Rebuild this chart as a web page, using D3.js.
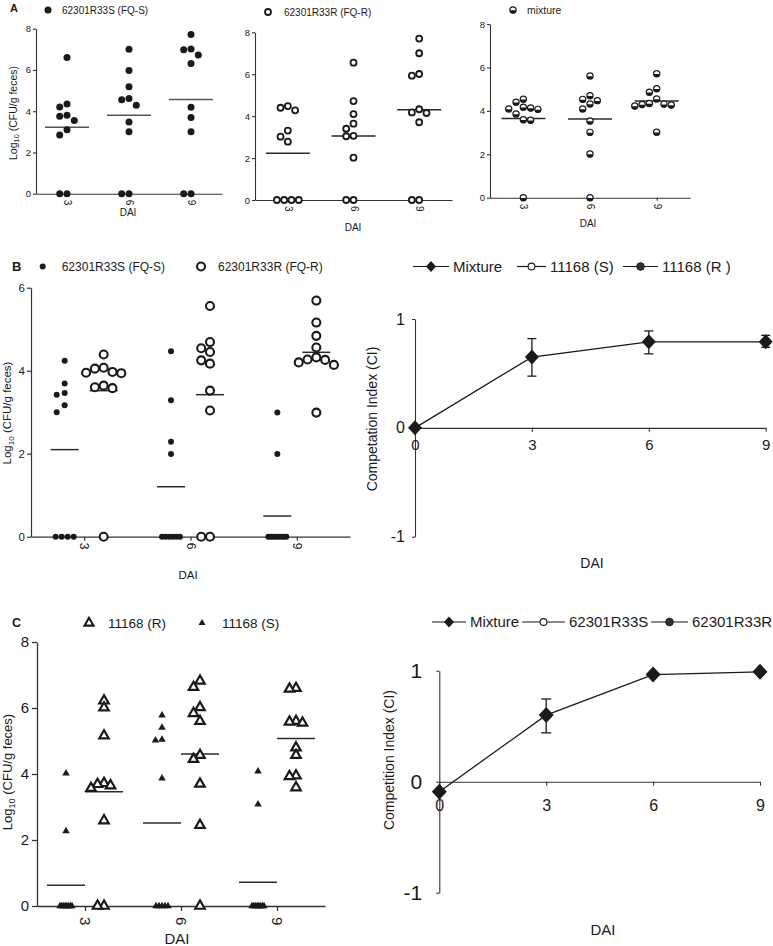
<!DOCTYPE html>
<html><head><meta charset="utf-8">
<script src="https://cdn.jsdelivr.net/npm/d3@7"></script>
<style>
body{margin:0;background:#fff}
svg{display:block}
text{font-family:"Liberation Sans",Arial,Helvetica,sans-serif;fill:#1a1a1a}
</style>
</head><body>
<script>
// ---------------- DATA ----------------
const days = [3, 6, 9];
const ciDays = [0, 3, 6, 9];

// Panel A (log10 CFU/g feces), one array per day
const aFQS = [
  [6.6, 4.35, 4.2, 3.8, 3.75, 3.55, 3.1, 2.85, 0, 0],
  [7.0, 5.97, 5.18, 4.61, 4.55, 4.29, 3.48, 3.0, 0, 0],
  [7.72, 7.02, 6.98, 6.73, 6.31, 4.19, 3.69, 3.0, 0, 0]
];
const aFQR = [
  [4.48, 4.40, 4.28, 3.31, 3.02, 2.78, 0, 0, 0, 0],
  [6.55, 4.72, 4.10, 3.64, 3.40, 3.06, 3.04, 2.02, 0, 0],
  [7.70, 7.0, 6.01, 5.93, 4.33, 4.18, 4.15, 3.71, 0, 0]
];
const aMix = [
  [4.54, 4.40, 4.17, 4.13, 4.09, 4.07, 3.86, 3.59, 3.57, 0],
  [5.61, 4.70, 4.53, 4.47, 4.32, 4.09, 3.53, 3.01, 2.01, 0],
  [5.71, 5.02, 4.86, 4.55, 4.34, 4.31, 4.29, 4.27, 4.22, 3.02]
];
// Panel B left
const bFQS = [
  [4.24, 3.69, 3.46, 3.42, 3.17, 3.0, 0, 0, 0, 0],
  [4.47, 3.29, 2.29, 1.99, 0, 0, 0, 0, 0, 0],
  [2.99, 1.99, 0, 0, 0, 0, 0, 0, 0, 0]
];
const bFQR = [
  [4.39, 4.07, 4.05, 3.97, 3.95, 3.94, 3.64, 3.60, 3.58, 0],
  [5.56, 4.69, 4.54, 4.45, 4.25, 4.17, 3.52, 3.04, 0, 0],
  [5.69, 5.16, 4.84, 4.56, 4.32, 4.27, 4.26, 4.20, 4.14, 2.99]
];
// Panel C left
const c11168S = [
  [4.02, 2.27, 0, 0, 0, 0, 0, 0, 0, 0],
  [5.78, 5.41, 5.04, 5.02, 3.87, 0, 0, 0, 0, 0],
  [4.08, 3.08, 0, 0, 0, 0, 0, 0, 0, 0]
];
const c11168R = [
  [6.22, 6.01, 5.16, 3.72, 3.69, 3.65, 3.57, 2.59, 0, 0],
  [6.82, 6.63, 6.02, 5.84, 5.60, 4.57, 4.45, 3.70, 2.45, 0],
  [6.60, 6.58, 5.60, 5.58, 5.55, 4.80, 4.57, 3.95, 3.93, 3.59]
];
// Competition index panels
const bCI = [0, 0.65, 0.79, 0.79];
const bCIlo = [0, 0.475, 0.68, 0.74];
const bCIhi = [0, 0.82, 0.89, 0.85];
const cCI = [-0.09, 0.60, 0.965, 0.99];
const cCIlo = [-0.09, 0.44, 0.965, 0.99];
const cCIhi = [-0.09, 0.745, 0.965, 0.99];

const logTicksA = [0, 2, 4, 6, 8];
const logTicksB = [0, 2, 4, 6];
const ciTicks = [-1, 0, 1];

// ---------------- DRAWING ----------------
const W = 773, H = 946;
const INK = "#1a1a1a", AX = "#333";
const svg = d3.select("body").append("svg").attr("width", W).attr("height", H);

function swarm(values, y, cx, d, tieMax) {
  const sorted = values.slice().sort((a, b) => b - a);
  const groups = d3.groups(sorted, v => v);
  const placed = [];
  const order = [0, -1, 1, -2, 2, -3, 3, -4, 4, -5, 5];
  groups.forEach(([v, arr]) => {
    const py = y(v), n = arr.length;
    if (n >= 3) {
      const s = Math.min(d, tieMax / (n - 1));
      arr.forEach((_, i) => placed.push({v, x: cx + (i - (n - 1) / 2) * s, y: py}));
    } else {
      arr.forEach(() => {
        for (const k of order) {
          const px = cx + k * d;
          if (placed.every(p => (p.x - px) ** 2 + (p.y - py) ** 2 >= d * d * 0.97)) {
            placed.push({v, x: px, y: py}); break;
          }
        }
      });
    }
  });
  return placed;
}

function marker(g, type, x, y, s) {
  if (type === "dot") {
    g.append("circle").attr("cx", x).attr("cy", y).attr("r", s.r).attr("fill", INK);
  } else if (type === "ring") {
    g.append("circle").attr("cx", x).attr("cy", y).attr("r", s.r)
      .attr("fill", "#fff").attr("stroke", INK).attr("stroke-width", s.sw);
  } else if (type === "half") {
    g.append("circle").attr("cx", x).attr("cy", y).attr("r", s.r)
      .attr("fill", "#fff").attr("stroke", INK).attr("stroke-width", s.sw);
    g.append("path").attr("d", `M${x - s.r},${y + 0.3}A${s.r},${s.r} 0 0 0 ${x + s.r},${y + 0.3}Z`).attr("fill", INK);
  } else if (type === "tri" || type === "triOpen") {
    const a = s.a;
    const p = `M${x},${y - a * 0.577}L${x - a / 2},${y + a * 0.289}L${x + a / 2},${y + a * 0.289}Z`;
    if (type === "tri") g.append("path").attr("d", p).attr("fill", INK);
    else g.append("path").attr("d", p).attr("fill", "#fff").attr("stroke", INK)
      .attr("stroke-width", s.sw).attr("stroke-linejoin", "miter");
  } else if (type === "diamond") {
    g.append("path").attr("d", `M${x},${y - s.h}L${x + s.w},${y}L${x},${y + s.h}L${x - s.w},${y}Z`).attr("fill", INK);
  }
}

function styleAxis(sel, fs, sw) {
  sel.selectAll("path.domain").attr("stroke", AX).attr("stroke-width", sw);
  sel.selectAll(".tick line").attr("stroke", AX).attr("stroke-width", sw);
  sel.selectAll(".tick text").attr("fill", INK).style("font-size", fs + "px")
    .style("font-family", '"Liberation Sans",Arial,sans-serif');
}

function logLabel(g, x, y, fs) {
  const t = g.append("text").attr("transform", `translate(${x},${y}) rotate(-90)`)
    .attr("text-anchor", "middle").style("font-size", fs + "px");
  t.append("tspan").text("Log");
  t.append("tspan").text("10").style("font-size", (fs * 0.7) + "px").attr("dy", fs * 0.25);
  t.append("tspan").text(" (CFU/g feces)").attr("dy", -fs * 0.25);
}

function scatterPanel(o) {
  const g = svg.append("g");
  const x = d3.scaleLinear().domain([1.5, 10.5]).range(o.xr);
  const y = d3.scaleLinear().domain([0, o.ymax]).range([o.y0, o.ytop]);
  const ya = g.append("g").attr("transform", `translate(${o.xr[0]},0)`)
    .call(d3.axisLeft(y).tickValues(o.yticks).tickSize(o.tick).tickSizeOuter(0).tickPadding(o.pad).tickFormat(d => String(d)));
  styleAxis(ya, o.fs, o.sw);
  const xa = g.append("g").attr("transform", `translate(0,${o.y0})`)
    .call(d3.axisBottom(x).tickValues(days).tickSize(o.tick).tickSizeOuter(0).tickFormat(d => String(d)));
  styleAxis(xa, o.xfs, o.sw);
  xa.selectAll(".tick text").attr("transform", "rotate(90)").attr("text-anchor", "start")
    .attr("x", o.xoff).attr("y", 0).attr("dy", "0.35em");

  o.groups.forEach(gr => {
    gr.data.forEach((vals, i) => {
      const cx = x(days[i]) + gr.off;
      const mean = d3.mean(vals);
      g.append("line").attr("x1", cx - o.half).attr("x2", cx + o.half)
        .attr("y1", y(mean)).attr("y2", y(mean)).attr("stroke", o.meanColor || "#2a2a2a").attr("stroke-width", 1.5);
      swarm(vals, y, cx, gr.d, gr.tieMax).forEach(p => marker(g, gr.type, p.x, p.y, gr.s));
    });
  });
  g.append("text").attr("x", o.dai[0]).attr("y", o.dai[1]).attr("text-anchor", "middle")
    .style("font-size", o.daifs + "px").text("DAI");
  return g;
}

// ---- Panel A ----
const sA = {fs: 9.5, xfs: 10, sw: 1.1, tick: 3, pad: 2, xoff: 6, half: 22, daifs: 10, yticks: logTicksA, ymax: 8};
scatterPanel(Object.assign({}, sA, {xr: [36, 222], y0: 193.7, ytop: 28.7, dai: [128, 216], meanColor: "#555",
  groups: [{data: aFQS, off: 0, type: "dot", s: {r: 3.5}, d: 7.3, tieMax: 14}]}));
scatterPanel(Object.assign({}, sA, {xr: [255, 452], y0: 200, ytop: 32.3, dai: [353, 230.5],
  groups: [{data: aFQR, off: 0, type: "ring", s: {r: 3, sw: 1.8}, d: 7.3, tieMax: 22}]}));
scatterPanel(Object.assign({}, sA, {xr: [490, 690], y0: 197.7, ytop: 24, dai: [588, 226.5],
  groups: [{data: aMix, off: 0, type: "half", s: {r: 3.1, sw: 1.2}, d: 7.3, tieMax: 14}]}));

logLabel(svg, 16.5, 113, 10.5);
svg.append("text").attr("x", 10).attr("y", 12).style("font-size", "11px").style("font-weight", "bold").text("A");
marker(svg, "dot", 48, 10, {r: 3.5});
svg.append("text").attr("x", 62).attr("y", 13.5).style("font-size", "10px").text("62301R33S (FQ-S)");
marker(svg, "ring", 268, 12, {r: 3, sw: 1.8});
svg.append("text").attr("x", 284).attr("y", 15.5).style("font-size", "10px").text("62301R33R (FQ-R)");
marker(svg, "half", 513, 10, {r: 3.1, sw: 1.2});
svg.append("text").attr("x", 527).attr("y", 13.5).style("font-size", "10.5px").text("mixture");

// ---- Panel B left ----
scatterPanel({fs: 11.5, xfs: 12, sw: 1.2, tick: 4, pad: 2, xoff: 6, half: 14, daifs: 11.5,
  yticks: logTicksB, ymax: 6, xr: [31, 350], y0: 536.7, ytop: 287.7, dai: [188, 579],
  groups: [
    {data: bFQS, off: -19.5, type: "dot", s: {r: 3}, d: 8, tieMax: 18},
    {data: bFQR, off: 19.5, type: "ring", s: {r: 4, sw: 2.1}, d: 8.8, tieMax: 18}
  ]});
logLabel(svg, 11, 413, 11.5);
svg.append("text").attr("x", 12).attr("y", 271).style("font-size", "13px").style("font-weight", "bold").text("B");
marker(svg, "dot", 42.7, 266.5, {r: 3});
svg.append("text").attr("x", 61.7).attr("y", 270.7).style("font-size", "12px").text("62301R33S (FQ-S)");
marker(svg, "ring", 201, 266.5, {r: 4, sw: 2.1});
svg.append("text").attr("x", 218).attr("y", 270.7).style("font-size", "12px").text("62301R33R (FQ-R)");

// ---- Panel C left ----
scatterPanel({fs: 15, xfs: 15, sw: 1.3, tick: 5, pad: 3, xoff: 11, half: 19, daifs: 15,
  yticks: logTicksA, ymax: 8, xr: [37, 325], y0: 906, ytop: 642, dai: [177, 943.5],
  groups: [
    {data: c11168S, off: -19, type: "tri", s: {a: 7.5}, d: 6.5, tieMax: 12},
    {data: c11168R, off: 19, type: "triOpen", s: {a: 9.5, sw: 2.2}, d: 6.5, tieMax: 10}
  ]});
logLabel(svg, 11.5, 772, 13);
svg.append("text").attr("x", 12).attr("y", 627).style("font-size", "12.5px").style("font-weight", "bold").text("C");
marker(svg, "triOpen", 89, 623, {a: 9, sw: 2.1});
svg.append("text").attr("x", 108).attr("y", 627.5).style("font-size", "13.5px").text("11168 (R)");
marker(svg, "tri", 202, 623, {a: 7});
svg.append("text").attr("x", 222).attr("y", 627.5).style("font-size", "13.5px").text("11168 (S)");

// ---- CI panels ----
function ciPanel(o) {
  const g = svg.append("g");
  const x = d3.scaleLinear().domain([0, 9]).range(o.xr);
  const y = d3.scaleLinear().domain([-1, 1]).range([o.yb, o.yt]);
  const ya = g.append("g").attr("transform", `translate(${o.xr[0]},0)`)
    .call(d3.axisLeft(y).tickValues(ciTicks).tickSize(3).tickSizeOuter(0).tickPadding(o.ypad).tickFormat(d => String(d)));
  styleAxis(ya, o.yfs, 1.1);
  const xa = g.append("g").attr("transform", `translate(0,${y(0)})`)
    .call(d3.axisBottom(x).tickValues(ciDays).tickSize(4).tickSizeOuter(0).tickPadding(o.xpad).tickFormat(d => String(d)));
  styleAxis(xa, o.xfs, 1.1);
  const pts = ciDays.map((d, i) => ({x: x(d), y: y(o.m[i]), lo: y(o.lo[i]), hi: y(o.hi[i])}));
  g.append("path").attr("d", d3.line().x(p => p.x).y(p => p.y)(pts))
    .attr("fill", "none").attr("stroke", INK).attr("stroke-width", 1.3);
  pts.forEach(p => {
    if (Math.abs(p.hi - p.lo) > 1) {
      g.append("line").attr("x1", p.x).attr("x2", p.x).attr("y1", p.lo).attr("y2", p.hi).attr("stroke", INK).attr("stroke-width", 1.3);
      [p.lo, p.hi].forEach(yy => g.append("line").attr("x1", p.x - o.cap).attr("x2", p.x + o.cap)
        .attr("y1", yy).attr("y2", yy).attr("stroke", INK).attr("stroke-width", 1.3));
    }
    marker(g, "diamond", p.x, p.y, {w: o.dw, h: o.dh});
  });
  g.append("text").attr("x", o.dai[0]).attr("y", o.dai[1]).attr("text-anchor", "middle")
    .style("font-size", o.daifs + "px").text("DAI");
  g.append("text").attr("transform", `translate(${o.ylab[0]},${o.ylab[1]}) rotate(-90)`)
    .attr("text-anchor", "middle").style("font-size", o.ylabfs + "px").text(o.ylabText);
  // legend
  const L = o.leg, ly = L.y;
  const seg = (x1, x2) => g.append("line").attr("x1", x1).attr("x2", x2).attr("y1", ly).attr("y2", ly)
    .attr("stroke", INK).attr("stroke-width", 1.2);
  seg(L.a[0], L.a[1]); marker(g, "diamond", (L.a[0] + L.a[1]) / 2, ly, {w: 5, h: 5.5});
  g.append("text").attr("x", L.a[1] + 4).attr("y", ly + 5).style("font-size", L.fs + "px").text(L.names[0]);
  seg(L.b[0], L.b[1]);
  g.append("circle").attr("cx", (L.b[0] + L.b[1]) / 2).attr("cy", ly).attr("r", 3.4)
    .attr("fill", "#fff").attr("stroke", INK).attr("stroke-width", 1.1);
  g.append("text").attr("x", L.b[1] + 4).attr("y", ly + 5).style("font-size", L.fs + "px").text(L.names[1]);
  seg(L.c[0], L.c[1]);
  g.append("circle").attr("cx", (L.c[0] + L.c[1]) / 2).attr("cy", ly).attr("r", 3.8)
    .attr("fill", "#333").attr("stroke", INK).attr("stroke-width", 1);
  g.append("text").attr("x", L.c[1] + 4).attr("y", ly + 5).style("font-size", L.fs + "px").text(L.names[2]);
}

ciPanel({xr: [415, 765.7], yb: 536.7, yt: 319, ypad: 7, xpad: 8, yfs: 16, xfs: 15,
  m: bCI, lo: bCIlo, hi: bCIhi, cap: 4.5, dw: 7, dh: 7.5, dai: [592, 567.5], daifs: 14,
  ylab: [376.5, 419], ylabfs: 14, ylabText: "Competation Index (CI)",
  leg: {y: 266.5, fs: 15, a: [413, 449], b: [517, 546], c: [623, 658], names: ["Mixture", "11168 (S)", "11168 (R )"]}});

ciPanel({xr: [439.3, 760], yb: 892.7, yt: 670.7, ypad: 14, xpad: 14, yfs: 21, xfs: 16,
  m: cCI, lo: cCIlo, hi: cCIhi, cap: 5, dw: 7.5, dh: 8, dai: [603, 934.5], daifs: 15,
  ylab: [394, 760], ylabfs: 14, ylabText: "Competition Index (CI)",
  leg: {y: 622, fs: 15, a: [432, 466], b: [522, 565], c: [651, 688], names: ["Mixture", "62301R33S", "62301R33R"]}});
</script>
</body></html>
